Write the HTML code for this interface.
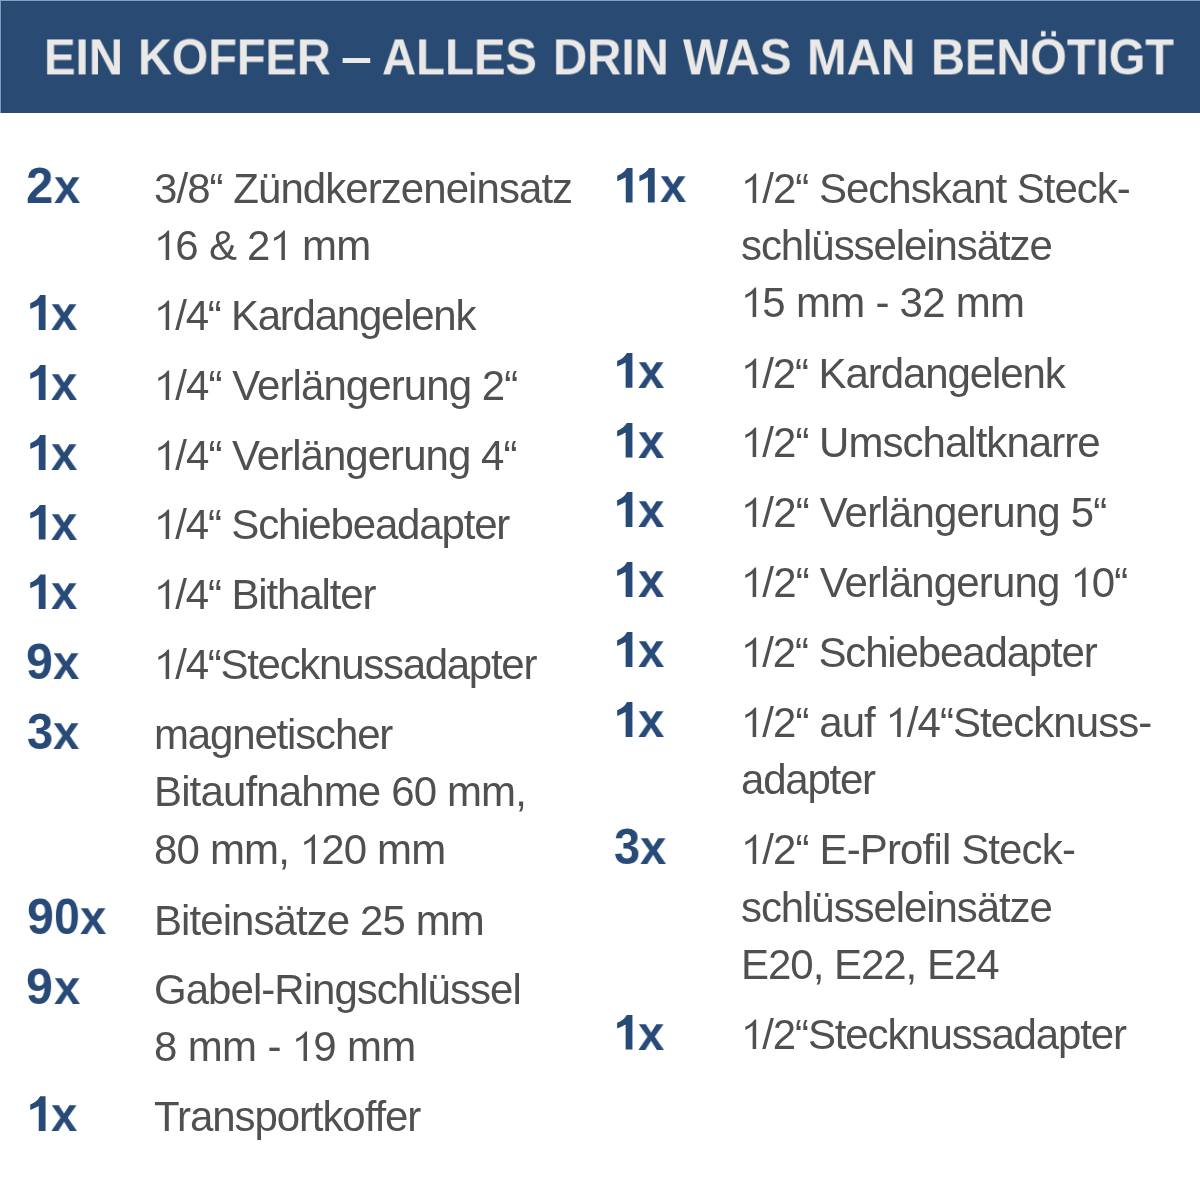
<!DOCTYPE html>
<html><head><meta charset="utf-8"><style>
html,body{margin:0;padding:0;}
body{width:1200px;height:1200px;background:#fff;position:relative;overflow:hidden;font-family:"Liberation Sans",sans-serif;}
.hdr{position:absolute;left:0;top:0;width:1200px;height:113px;background:#284a73;}
.hl{position:absolute;left:0;top:0;width:1200px;height:1px;background:#85a2c3;}
.hl2{position:absolute;left:1px;top:1px;width:1199px;height:1px;background:#25466e;}
.vl2{position:absolute;left:1px;top:1px;width:1px;height:112px;background:#25466e;}
.vl{position:absolute;left:0;top:0;width:1px;height:113px;background:#809ebf;}
.ttl{position:absolute;will-change:transform;font-weight:bold;font-size:50px;line-height:50px;color:#ebe9e7;white-space:nowrap;transform-origin:0 0;}
.n{position:absolute;will-change:transform;font-weight:bold;font-size:50px;line-height:50px;color:#284a78;white-space:nowrap;transform-origin:0 0;}
.nx{position:absolute;will-change:transform;font-weight:bold;font-size:50px;line-height:50px;color:#284a78;white-space:nowrap;transform-origin:0 42px;}
.num{position:absolute;left:0;top:0;}
.b1{position:absolute;width:16px;height:35px;font-weight:bold;font-size:50px;line-height:35px;color:transparent;}
.b1::before{content:"";position:absolute;left:0;top:0;width:16px;height:35px;background:#284a78;clip-path:path("M9.9 0H15.3V34.9H8.5V9.8Q4.3 12.1 0 13.8V8.2Q6.8 5.9 9.9 0Z");}
.t{position:absolute;will-change:transform;font-size:42px;line-height:42px;color:#505050;white-space:nowrap;}
.o{display:inline-block;position:relative;width:21.3px;color:transparent;letter-spacing:0;}
.o::before{content:"";position:absolute;left:4.33px;top:5.4px;width:12px;height:30px;background:#505050;clip-path:path("M9.4 0H10.83V29.6H7.33V6Q3.5 9.2 0 10.5V7.33Q5.5 5.2 9.4 0Z");}
</style></head><body>
<div class="hdr"></div><div class="hl2"></div><div class="vl2"></div><div class="hl"></div><div class="vl"></div>
<div class="ttl" style="left:43.66px;top:32.0px;transform:translateY(0.4px) scaleX(0.9477)">EIN</div>
<div class="ttl" style="left:138.15px;top:32.0px;transform:translateY(0.4px) scaleX(0.9373)">KOFFER</div>
<div class="ttl" style="left:340.91px;top:32.0px;transform:translateY(0.4px) scaleX(1.1116)">–</div>
<div class="ttl" style="left:382.46px;top:32.0px;transform:translateY(0.4px) scaleX(0.9453)">ALLES</div>
<div class="ttl" style="left:552.96px;top:32.0px;transform:translateY(0.4px) scaleX(0.9478)">DRIN</div>
<div class="ttl" style="left:683.11px;top:32.0px;transform:translateY(0.4px) scaleX(0.9534)">WAS</div>
<div class="ttl" style="left:806.95px;top:32.0px;transform:translateY(0.4px) scaleX(0.9508)">MAN</div>
<div class="ttl" style="left:930.79px;top:32.0px;transform:translateY(0.4px) scaleX(0.9405)">BENÖTIGT</div>
<div class="num"><div class="n" style="left:26.40px;top:161.00px;transform:scaleX(0.98)">2</div><div class="nx" style="left:54.29px;top:161.00px;transform:scale(0.945,0.955)">x</div></div>
<div class="t" style="left:154px;top:168px;letter-spacing:-0.943px">3/8“ Zündkerzeneinsatz</div>
<div class="t" style="left:154px;top:225px;letter-spacing:-0.724px"><span class="o">1</span>6 &amp; 2<span class="o">1</span> mm</div>
<div class="num"><div class="b1" style="left:30.25px;top:295.10px">1</div><div class="nx" style="left:50.99px;top:288.00px;transform:scale(0.945,0.955)">x</div></div>
<div class="t" style="left:154px;top:295px;letter-spacing:-1.247px"><span class="o">1</span>/4“ Kardangelenk</div>
<div class="num"><div class="b1" style="left:30.25px;top:365.10px">1</div><div class="nx" style="left:50.99px;top:358.00px;transform:scale(0.945,0.955)">x</div></div>
<div class="t" style="left:154px;top:365px;letter-spacing:-0.922px"><span class="o">1</span>/4“ Verlängerung 2“</div>
<div class="num"><div class="b1" style="left:30.25px;top:435.10px">1</div><div class="nx" style="left:50.99px;top:428.00px;transform:scale(0.945,0.955)">x</div></div>
<div class="t" style="left:154px;top:435px;letter-spacing:-0.972px"><span class="o">1</span>/4“ Verlängerung 4“</div>
<div class="num"><div class="b1" style="left:30.25px;top:504.60px">1</div><div class="nx" style="left:50.99px;top:497.50px;transform:scale(0.945,0.955)">x</div></div>
<div class="t" style="left:154px;top:504px;letter-spacing:-1.168px"><span class="o">1</span>/4“ Schiebeadapter</div>
<div class="num"><div class="b1" style="left:30.25px;top:574.40px">1</div><div class="nx" style="left:50.99px;top:567.30px;transform:scale(0.945,0.955)">x</div></div>
<div class="t" style="left:154px;top:574px;letter-spacing:-1.141px"><span class="o">1</span>/4“ Bithalter</div>
<div class="num"><div class="n" style="left:26.30px;top:637.04px;transform:scaleX(0.965)">9</div><div class="nx" style="left:53.39px;top:637.00px;transform:scale(0.945,0.955)">x</div></div>
<div class="t" style="left:154px;top:644px;letter-spacing:-1.286px"><span class="o">1</span>/4“Stecknussadapter</div>
<div class="num"><div class="n" style="left:27.12px;top:707.04px;transform:scaleX(0.94)">3</div><div class="nx" style="left:52.99px;top:707.00px;transform:scale(0.945,0.955)">x</div></div>
<div class="t" style="left:154px;top:714px;letter-spacing:-1.162px">magnetischer</div>
<div class="t" style="left:154px;top:771px;letter-spacing:-0.861px">Bitaufnahme 60 mm,</div>
<div class="t" style="left:154px;top:829px;letter-spacing:-0.833px">80 mm, <span class="o">1</span>20 mm</div>
<div class="num"><div class="n" style="left:26.60px;top:891.84px;transform:scaleX(0.965)">9</div><div class="n" style="left:54.39px;top:891.84px;transform:scaleX(0.93)">0</div><div class="nx" style="left:80.09px;top:891.80px;transform:scale(0.945,0.955)">x</div></div>
<div class="t" style="left:154px;top:900px;letter-spacing:-0.922px">Biteinsätze 25 mm</div>
<div class="num"><div class="n" style="left:26.30px;top:962.04px;transform:scaleX(0.965)">9</div><div class="nx" style="left:53.69px;top:962.00px;transform:scale(0.945,0.955)">x</div></div>
<div class="t" style="left:154px;top:969px;letter-spacing:-0.966px">Gabel-Ringschlüssel</div>
<div class="t" style="left:154px;top:1026px;letter-spacing:-0.639px">8 mm - <span class="o">1</span>9 mm</div>
<div class="num"><div class="b1" style="left:30.25px;top:1096.30px">1</div><div class="nx" style="left:50.99px;top:1089.20px;transform:scale(0.945,0.955)">x</div></div>
<div class="t" style="left:154px;top:1096px;letter-spacing:-1.081px">Transportkoffer</div>
<div class="num"><div class="b1" style="left:617.25px;top:167.50px">1</div><div class="b1" style="left:639.40px;top:167.50px">1</div><div class="nx" style="left:659.94px;top:160.40px;transform:scale(0.945,0.955)">x</div></div>
<div class="t" style="left:741px;top:168px;letter-spacing:-1.000px"><span class="o">1</span>/2“ Sechskant Steck-</div>
<div class="t" style="left:741px;top:225px;letter-spacing:-1.083px">schlüsseleinsätze</div>
<div class="t" style="left:741px;top:282px;letter-spacing:-0.716px"><span class="o">1</span>5 mm - 32 mm</div>
<div class="num"><div class="b1" style="left:617.15px;top:352.80px">1</div><div class="nx" style="left:637.69px;top:345.70px;transform:scale(0.945,0.955)">x</div></div>
<div class="t" style="left:741px;top:353px;letter-spacing:-1.100px"><span class="o">1</span>/2“ Kardangelenk</div>
<div class="num"><div class="b1" style="left:617.15px;top:422.60px">1</div><div class="nx" style="left:637.69px;top:415.50px;transform:scale(0.945,0.955)">x</div></div>
<div class="t" style="left:741px;top:422px;letter-spacing:-0.971px"><span class="o">1</span>/2“ Umschaltknarre</div>
<div class="num"><div class="b1" style="left:617.15px;top:492.10px">1</div><div class="nx" style="left:637.69px;top:485.00px;transform:scale(0.945,0.955)">x</div></div>
<div class="t" style="left:741px;top:492px;letter-spacing:-0.815px"><span class="o">1</span>/2“ Verlängerung 5“</div>
<div class="num"><div class="b1" style="left:617.15px;top:562.10px">1</div><div class="nx" style="left:637.69px;top:555.00px;transform:scale(0.945,0.955)">x</div></div>
<div class="t" style="left:741px;top:562px;letter-spacing:-0.829px"><span class="o">1</span>/2“ Verlängerung <span class="o">1</span>0“</div>
<div class="num"><div class="b1" style="left:617.15px;top:632.10px">1</div><div class="nx" style="left:637.69px;top:625.00px;transform:scale(0.945,0.955)">x</div></div>
<div class="t" style="left:741px;top:632px;letter-spacing:-1.141px"><span class="o">1</span>/2“ Schiebeadapter</div>
<div class="num"><div class="b1" style="left:617.15px;top:702.10px">1</div><div class="nx" style="left:637.69px;top:695.00px;transform:scale(0.945,0.955)">x</div></div>
<div class="t" style="left:741px;top:702px;letter-spacing:-0.941px"><span class="o">1</span>/2“ auf <span class="o">1</span>/4“Stecknuss-</div>
<div class="t" style="left:741px;top:759px;letter-spacing:-1.225px">adapter</div>
<div class="num"><div class="n" style="left:613.82px;top:822.24px;transform:scaleX(0.94)">3</div><div class="nx" style="left:639.69px;top:822.20px;transform:scale(0.945,0.955)">x</div></div>
<div class="t" style="left:741px;top:829px;letter-spacing:-0.860px"><span class="o">1</span>/2“ E-Profil Steck-</div>
<div class="t" style="left:741px;top:887px;letter-spacing:-1.083px">schlüsseleinsätze</div>
<div class="t" style="left:741px;top:944px;letter-spacing:-1.023px">E20, E22, E24</div>
<div class="num"><div class="b1" style="left:617.15px;top:1014.60px">1</div><div class="nx" style="left:637.69px;top:1007.50px;transform:scale(0.945,0.955)">x</div></div>
<div class="t" style="left:741px;top:1014px;letter-spacing:-1.139px"><span class="o">1</span>/2“Stecknussadapter</div>
</body></html>
